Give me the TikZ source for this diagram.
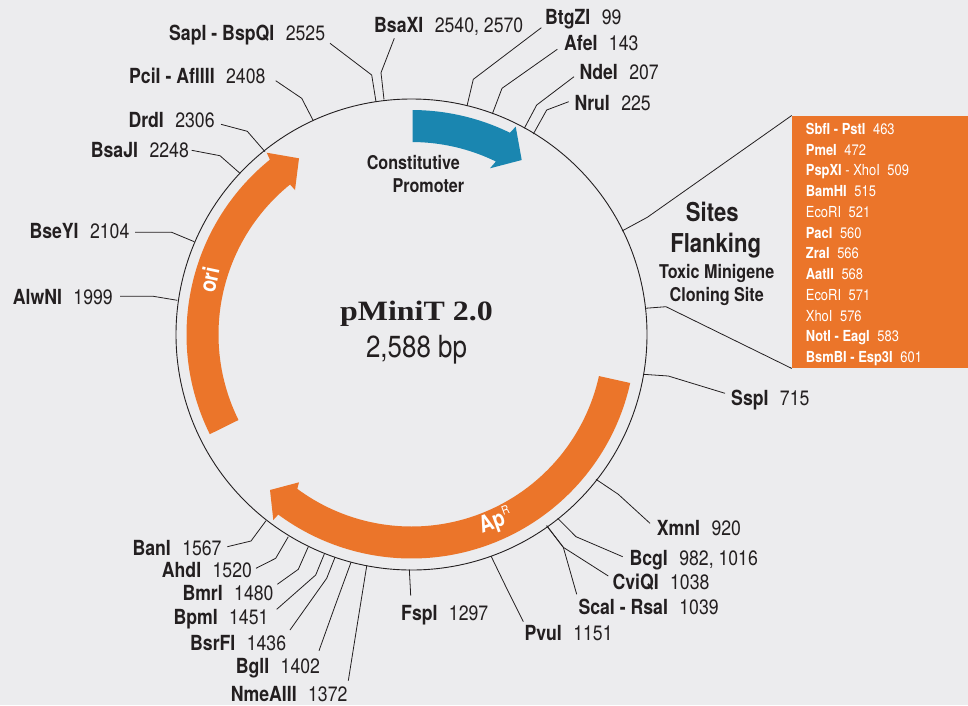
\documentclass[tikz,border=0pt]{standalone}
\usepackage{fontspec}
\setmainfont{TeX Gyre Heros}[FakeStretch=0.85]
\newfontfamily\titlefont{Liberation Serif}[FakeStretch=1.14]
\definecolor{bgc}{HTML}{ECECEE}
\definecolor{ink}{HTML}{231F20}
\definecolor{orangec}{HTML}{EB752A}
\definecolor{bluec}{HTML}{1A86B0}
\tikzset{
  lab/.style={anchor=base west,inner sep=0pt,text=ink,font=\fontsize{20.8}{24}\selectfont},
  rowlab/.style={anchor=base west,inner sep=0pt,text=white,font=\fontsize{15.2}{18}\selectfont},
  headlab/.style={anchor=base,inner sep=0pt,text=ink,font=\bfseries\fontsize{19}{23}\selectfont},
  bighead/.style={anchor=base,inner sep=0pt,text=ink,font=\bfseries\fontsize{26}{30}\selectfont},
  leaderline/.style={draw=ink,line width=0.8pt,line join=round},
  arcfill/.style={fill=orangec,draw=none},
}
\newcommand{\enzyme}[5]{\node[lab] (#1) at (#2,{#3+7.3}) {\textbf{#4}\hspace{0.55em}#5};}
\newcommand{\leader}[4]{%
  \coordinate (#1-ring) at (#2);
  \coordinate (#1-bend) at (#3);
  \coordinate (#1-end) at (#4);
  \draw[leaderline] (#1-ring) -- (#1-bend) -- (#1-end);}
\newcommand{\siterow}[3]{\node[rowlab] at (805.7,{#1+5.6}) {\textbf{#2}#3};}
\begin{document}
\begin{tikzpicture}[x=1pt,y=1pt,yscale=-1]
\useasboundingbox (0,0) rectangle (968,705);
\fill[bgc] (0,0) rectangle (968,705);

% backbone
\node[circle,draw=ink,line width=0.9pt,minimum size=471pt,inner sep=0pt] (ring) at (411.5,334.5) {};

% features
\begin{scope}[shift={(411.5,334.5)}]
\fill[arcfill] (153.7:225) arc[start angle=153.7,end angle=231,radius=225]
  -- (-144.8,-181.8) -- (-112.5,-176.2) -- (-116.5,-144.5)
  -- (231:193) arc[start angle=231,end angle=153.7,radius=193] -- cycle;
\fill[arcfill] (12.5:224) arc[start angle=12.5,end angle=126.5,radius=224]
  -- (-138.2,185.5) -- (-141.5,155.5) -- (-112.5,147.8)
  -- (126.5:192) arc[start angle=126.5,end angle=12.5,radius=192] -- cycle;
\fill[bluec] (270.3:224.5) arc[start angle=270.3,end angle=296,radius=224.5]
  -- (104.2,-207.8) -- (110.2,-174.5) -- (78.5,-166.2)
  -- (296:192.5) arc[start angle=296,end angle=270.3,radius=192.5] -- cycle;
\end{scope}

\node[rotate=78,inner sep=0pt,text=white,font=\bfseries\fontsize{23}{26}\selectfont] (ori) at (209,280) {ori};
\node[rotate=20,inner sep=0pt,text=white,font=\bfseries\fontsize{23}{26}\selectfont] (apr) at (495.5,521) {Ap\raisebox{0.42em}{\mdseries\fontsize{12}{14}\selectfont R}};

% centre
\node[anchor=base,inner sep=0pt,text=ink,font=\titlefont\bfseries\fontsize{28}{32}\selectfont] (title) at (416.5,320) {pMiniT 2.0};
\node[anchor=base,inner sep=0pt,text=ink,font=\fontsize{30.5}{34}\selectfont] (size) at (416.5,357.3) {2,588 bp};

% promoter
\node[headlab] (prom1) at (413.3,169) {Constitutive};
\node[headlab] (prom2) at (428.3,192) {Promoter};

% flanking sites
\node[bighead] (sites) at (712.3,221) {Sites};
\node[bighead] (flank) at (715.7,252) {Flanking};
\node[headlab] (toxic) at (716.7,278.5) {Toxic Minigene};
\node[headlab] (clone) at (716.7,301) {Cloning Site};

\node[fill=orangec,anchor=north west,minimum width=176.3pt,minimum height=252.5pt,inner sep=0pt] (box) at (791.7,115.5) {};
\siterow{129}{SbfI - PstI}{\hspace{0.5em}463}
\siterow{149.7}{PmeI}{\hspace{0.5em}472}
\siterow{170}{PspXI}{ - XhoI\hspace{0.5em}509}
\siterow{190.7}{BamHI}{\hspace{0.5em}515}
\siterow{211.7}{}{EcoRI\hspace{0.5em}521}
\siterow{232.7}{PacI}{\hspace{0.5em}560}
\siterow{253}{ZraI}{\hspace{0.5em}566}
\siterow{273.7}{AatII}{\hspace{0.5em}568}
\siterow{294.7}{}{EcoRI\hspace{0.5em}571}
\siterow{315.7}{}{XhoI\hspace{0.5em}576}
\siterow{336}{NotI - EagI}{\hspace{0.5em}583}
\siterow{356.7}{BsmBI - Esp3I}{\hspace{0.5em}601}

\coordinate (flankA-ring) at (622,231);
\coordinate (flankA-bend) at (647.3,217.3);
\draw[leaderline] (flankA-ring) -- (flankA-bend) -- (box.north west);
\coordinate (flankB-ring) at (645,308.3);
\coordinate (flankB-bend) at (666,306.7);
\draw[leaderline] (flankB-ring) -- (flankB-bend) -- (box.south west);

% enzyme labels
\enzyme{sapi}{169}{33.3}{SapI - BspQI}{2525}
\enzyme{pcii}{129}{75.7}{PciI - AflIII}{2408}
\enzyme{drdi}{128.3}{120.3}{DrdI}{2306}
\enzyme{bsaji}{90.7}{150.3}{BsaJI}{2248}
\enzyme{bseyi}{29.3}{230.7}{BseYI}{2104}
\enzyme{alwni}{12.7}{297.3}{AlwNI}{1999}
\enzyme{bsaxi}{374}{25}{BsaXI}{2540, 2570}
\enzyme{btgzi}{545}{16.7}{BtgZI}{99}
\enzyme{afei}{564}{42.7}{AfeI}{143}
\enzyme{ndei}{579.3}{71.7}{NdeI}{207}
\enzyme{nrui}{574.3}{102.7}{NruI}{225}
\enzyme{sspi}{731}{398}{SspI}{715}
\enzyme{xmni}{656.7}{528.3}{XmnI}{920}
\enzyme{bcgi}{629.3}{557.7}{BcgI}{982, 1016}
\enzyme{cviqi}{612.3}{582.3}{CviQI}{1038}
\enzyme{scai}{578.3}{606.7}{ScaI - RsaI}{1039}
\enzyme{pvui}{524.3}{633.3}{PvuI}{1151}
\enzyme{fspi}{401}{613}{FspI}{1297}
\enzyme{nmeaiii}{230.7}{694.3}{NmeAIII}{1372}
\enzyme{bgli}{235.7}{666}{BglI}{1402}
\enzyme{bsrfi}{190}{642.7}{BsrFI}{1436}
\enzyme{bpmi}{173.3}{616.7}{BpmI}{1451}
\enzyme{bmri}{182.3}{592.7}{BmrI}{1480}
\enzyme{ahdi}{161.7}{570}{AhdI}{1520}
\enzyme{bani}{132.3}{547.7}{BanI}{1567}

% leaders: ring point, bend, end beside label
\leader{sapi}{376,101.7}{371.7,75}{330,43.3}
\leader{pcii}{313.3,120.7}{301.7,98.3}{275.7,80.7}
\leader{drdi}{265,151.7}{247.3,131.3}{221,124.3}
\leader{bsaji}{240,173.3}{220,155.7}{191.7,150.3}
\leader{bseyi}{194.3,241.7}{171.7,232.3}{135,232.3}
\leader{alwni}{177.3,300.3}{153.3,296.3}{120,296.3}
\leader{bsaxi}{384,99.5}{381,72.7}{394.3,38.3}
\leader{btgzi}{467,106}{473.3,79.3}{541.3,27.7}
\leader{afei}{492.3,114}{502,88.3}{557.3,49.3}
\leader{ndei}{524.3,128.3}{536.7,105}{574,76.7}
\leader{nrui}{533.3,134}{546.7,110}{568.7,101.7}
\leader{sspi}{643.3,374.3}{668.3,376}{725,393.3}
\leader{xmni}{596,479.3}{618.3,494.3}{650,523.3}
\leader{bcgi}{557.7,518.3}{576,536.7}{622.7,556.7}
\leader{cviqi}{546.7,525.7}{563.3,547.3}{608.3,576}
\leader{scai}{546.7,525.7}{563.3,547.3}{576.7,594.3}
\leader{pvui}{491,556}{507,589}{523.3,621.7}
\leader{fspi}{409.3,569.3}{410,582}{410.7,595.7}
\leader{nmeaiii}{366.7,566}{357.5,623}{348.3,680.7}
\leader{bgli}{351,562.3}{335,606}{319,650.7}
\leader{bsrfi}{335,557.3}{326.7,578.3}{290,630}
\leader{bpmi}{324.3,554}{315.7,575}{276.7,609.3}
\leader{bmri}{308.3,546.7}{298.3,569.3}{277.3,584.3}
\leader{ahdi}{288.3,536.7}{275.7,558.3}{256,568.3}
\leader{bani}{266,520.7}{251,541}{227.3,546.7}
\end{tikzpicture}
\end{document}
